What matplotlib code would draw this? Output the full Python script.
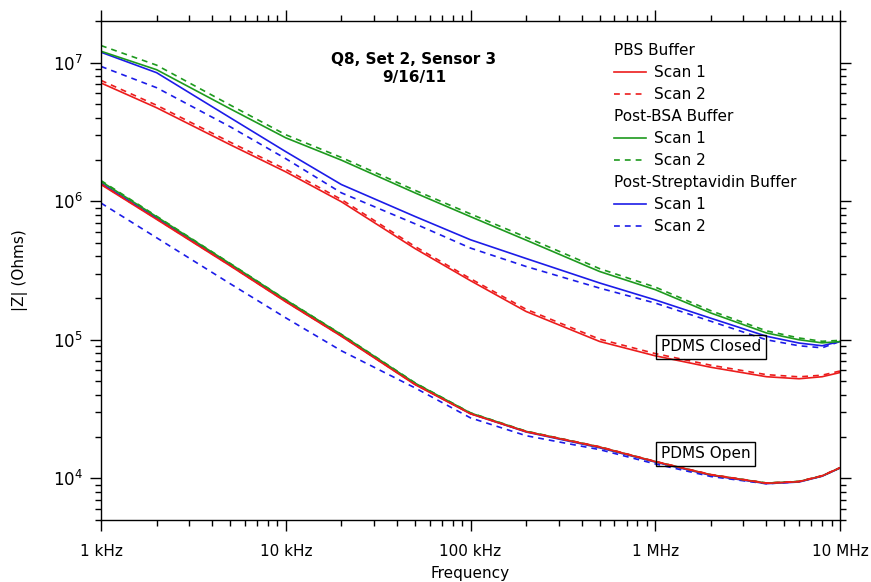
import matplotlib
matplotlib.use("Agg")
import matplotlib.pyplot as plt
from matplotlib.legend import Legend
from matplotlib.lines import Line2D
from matplotlib.ticker import LogLocator, NullFormatter

# frequency grid (Hz) and impedance magnitudes (Ohms)
freq_hz = [1e3, 2e3, 5e3, 1e4, 2e4, 5e4, 1e5, 2e5, 5e5, 1e6, 2e6, 4e6, 6e6, 8e6, 1e7]

# PDMS closed
pbs_closed_scan1 = [7.14e6, 4.73e6, 2.56e6, 1.63e6, 9.92e5, 4.56e5, 2.67e5, 1.60e5,
                    9.72e4, 7.66e4, 6.33e4, 5.41e4, 5.23e4, 5.41e4, 5.80e4]
pbs_closed_scan2 = [7.45e6, 4.93e6, 2.67e6, 1.70e6, 1.03e6, 4.72e5, 2.76e5, 1.66e5,
                    1.01e5, 7.95e4, 6.55e4, 5.60e4, 5.40e4, 5.55e4, 5.95e4]
bsa_closed_scan1 = [1.21e7, 8.90e6, 4.65e6, 2.87e6, 1.98e6, 1.15e6, 7.74e5, 5.24e5,
                    3.11e5, 2.30e5, 1.56e5, 1.12e5, 1.00e5, 9.50e4, 9.70e4]
bsa_closed_scan2 = [1.33e7, 9.60e6, 4.95e6, 3.02e6, 2.07e6, 1.20e6, 8.10e5, 5.50e5,
                    3.26e5, 2.40e5, 1.62e5, 1.16e5, 1.03e5, 9.75e4, 9.90e4]
strep_closed_scan1 = [1.19e7, 8.47e6, 4.01e6, 2.28e6, 1.32e6, 7.77e5, 5.27e5, 3.86e5,
                      2.57e5, 1.94e5, 1.43e5, 1.06e5, 9.47e4, 9.05e4, 9.72e4]
strep_closed_scan2 = [9.40e6, 6.60e6, 3.45e6, 2.03e6, 1.15e6, 6.88e5, 4.59e5, 3.38e5,
                      2.36e5, 1.84e5, 1.36e5, 1.00e5, 9.05e4, 8.75e4, 9.72e4]

# PDMS open
pbs_open_scan1 = [1.32e6, 7.40e5, 3.42e5, 1.88e5, 1.06e5, 4.75e4, 2.92e4, 2.17e4,
                  1.68e4, 1.32e4, 1.06e4, 9.20e3, 9.45e3, 1.04e4, 1.19e4]
pbs_open_scan2 = [1.33e6, 7.45e5, 3.44e5, 1.89e5, 1.065e5, 4.78e4, 2.93e4, 2.18e4,
                  1.69e4, 1.325e4, 1.065e4, 9.25e3, 9.50e3, 1.045e4, 1.195e4]
bsa_open_scan1 = [1.39e6, 7.73e5, 3.54e5, 1.94e5, 1.09e5, 4.87e4, 2.96e4, 2.18e4,
                  1.68e4, 1.32e4, 1.06e4, 9.23e3, 9.48e3, 1.04e4, 1.19e4]
bsa_open_scan2 = [1.41e6, 7.80e5, 3.56e5, 1.95e5, 1.095e5, 4.90e4, 2.97e4, 2.19e4,
                  1.685e4, 1.32e4, 1.06e4, 9.25e3, 9.50e3, 1.04e4, 1.19e4]
strep_open_scan1 = [1.35e6, 7.55e5, 3.47e5, 1.90e5, 1.07e5, 4.80e4, 2.93e4, 2.16e4,
                    1.66e4, 1.31e4, 1.05e4, 9.15e3, 9.40e3, 1.035e4, 1.185e4]
strep_open_scan2 = [9.70e5, 5.45e5, 2.54e5, 1.44e5, 8.33e4, 4.50e4, 2.73e4, 2.03e4,
                    1.61e4, 1.27e4, 1.03e4, 9.13e3, 9.44e3, 1.04e4, 1.19e4]

xtick_vals = [1e3, 1e4, 1e5, 1e6, 1e7]
xtick_labels = ["1 kHz", "10 kHz", "100 kHz", "1 MHz", "10 MHz"]

RED = "#ec1c1c"
GREEN = "#1e9a1e"
BLUE = "#1c1ce8"
DASH = (3.5, 3)
LW = 1.2

plt.rcParams["font.family"] = "DejaVu Sans"

fig = plt.figure(figsize=(8.71, 5.82), dpi=100)
ax = fig.add_axes([101 / 871, 1 - 520 / 582, 739 / 871, 499 / 582])
ax.set_xscale("log")
ax.set_yscale("log")

# blue, green, red order so red ends up on top
series = [
    (strep_closed_scan1, strep_closed_scan2, BLUE),
    (bsa_closed_scan1, bsa_closed_scan2, GREEN),
    (pbs_closed_scan1, pbs_closed_scan2, RED),
    (strep_open_scan1, strep_open_scan2, BLUE),
    (bsa_open_scan1, bsa_open_scan2, GREEN),
    (pbs_open_scan1, pbs_open_scan2, RED),
]
for s1, s2, c in series:
    ax.plot(freq_hz, s1, color=c, lw=LW)
    ax.plot(freq_hz, s2, color=c, lw=LW, dashes=DASH)

ax.set_xlim(1e3, 1e7)
ax.set_ylim(5e3, 2e7)

ax.set_xticks(xtick_vals)
ax.set_xticklabels(xtick_labels)
ax.xaxis.set_minor_locator(LogLocator(base=10, subs=range(2, 10), numticks=20))
ax.xaxis.set_minor_formatter(NullFormatter())
ax.set_yticks([1e4, 1e5, 1e6, 1e7])
ax.yaxis.set_minor_locator(LogLocator(base=10, subs=range(2, 10), numticks=20))
ax.yaxis.set_minor_formatter(NullFormatter())

ax.tick_params(which="both", direction="out", top=True, right=True, width=1, colors="black")
ax.tick_params(which="major", length=8)
ax.tick_params(which="minor", length=4.5)
ax.tick_params(axis="x", which="major", labelsize=11, pad=9)
ax.tick_params(axis="y", which="major", labelsize=12, pad=5)
for sp in ax.spines.values():
    sp.set_linewidth(1)

ax.set_xlabel("Frequency", fontsize=11, labelpad=5)
ax.set_ylabel("|Z| (Ohms)", fontsize=11)
ax.yaxis.set_label_coords(-0.099, 0.5)

ax.text(0.4235, 0.938, "Q8, Set 2, Sensor 3\n9/16/11", transform=ax.transAxes,
        ha="center", va="top", fontsize=11, fontweight="bold", linespacing=1.25)

# stacked legends, one per buffer
groups = [("PBS Buffer", RED, 0.956), ("Post-BSA Buffer", GREEN, 0.824),
          ("Post-Streptavidin Buffer", BLUE, 0.692)]
for title, c, ytop in groups:
    handles = [Line2D([], [], color=c, lw=LW), Line2D([], [], color=c, lw=LW, dashes=DASH)]
    leg = Legend(ax, handles, ["Scan 1", "Scan 2"], title=title, alignment="left",
                 loc="upper left", bbox_to_anchor=(0.694, ytop), frameon=False,
                 fontsize=11, title_fontsize=11, borderpad=0, borderaxespad=0,
                 labelspacing=0.47, handlelength=2.1, handletextpad=0.55)
    ax.add_artist(leg)

box = dict(boxstyle="square,pad=0.3", fc="none", ec="black", lw=1)
ax.text(1.07e6, 8.9e4, "PDMS Closed", fontsize=11, ha="left", va="center", bbox=box)
ax.text(1.07e6, 1.5e4, "PDMS Open", fontsize=11, ha="left", va="center", bbox=box)

fig.savefig("out.png", dpi=100)
